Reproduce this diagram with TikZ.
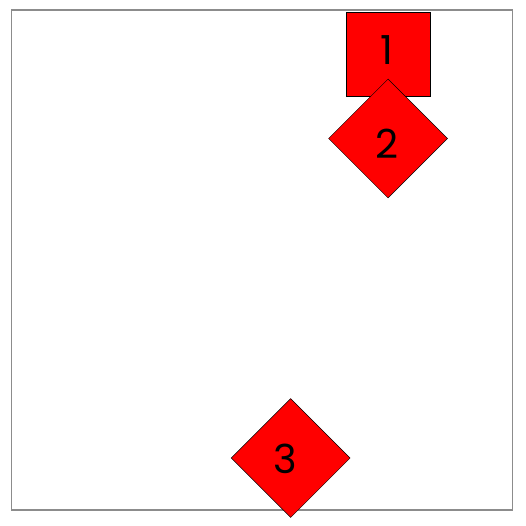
\documentclass[tikz,border=0pt]{standalone}
\usepackage{fontspec}
\setmainfont{Poppins}
\usetikzlibrary{shapes.geometric}
\begin{document}
\begin{tikzpicture}[x=1pt,y=-1pt,
  frame/.style={draw=gray!90, line width=1.2pt},
  sqbox/.style={rectangle, draw=black, line width=0.5pt, fill=red, minimum width=84pt, minimum height=84pt, inner sep=0pt},
  dia/.style={diamond, draw=black, line width=0.5pt, fill=red, minimum width=119pt, minimum height=119pt, inner sep=0pt},
  txt/.style={inner sep=0pt, anchor=center, font=\fontsize{40}{44}\selectfont}]
\useasboundingbox (0,0) rectangle (526,526);
\fill[white] (0,0) rectangle (526,526);
\draw[frame] (11.5,10) rectangle (512.5,510);
\node[sqbox] (n1) at (388,54) {};
\node[dia] (n2) at (388,138.5) {};
\node[dia] (n3) at (290.7,458) {};
\node[txt] (t1) at (387,50) {1};
\node[txt] (t2) at (387,144) {2};
\node[txt] (t3) at (285.5,458.5) {3};
\end{tikzpicture}
\end{document}
